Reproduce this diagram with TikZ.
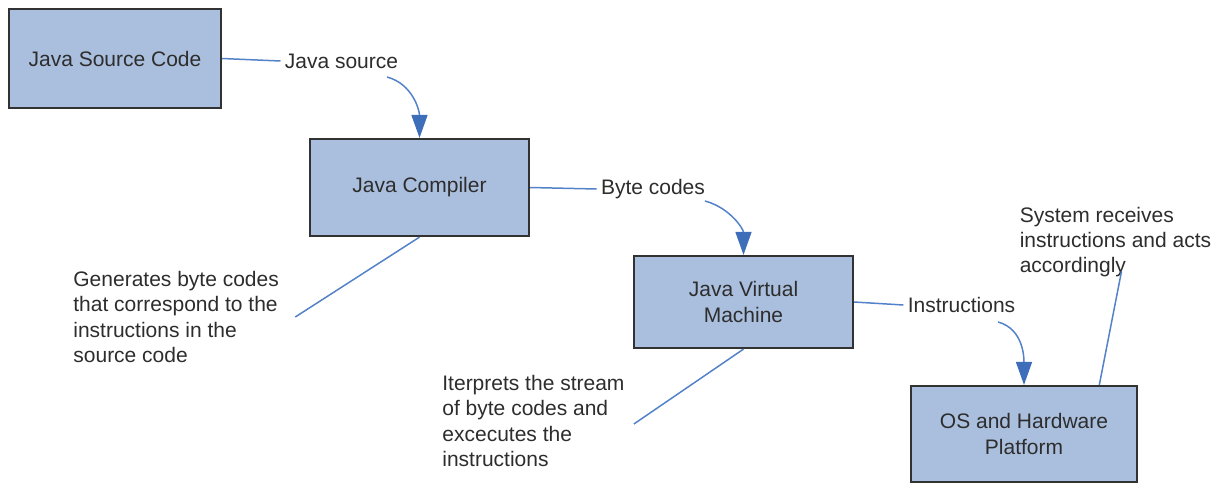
\documentclass[tikz,border=0pt]{standalone}
\usepackage{fontspec}
\setmainfont{Liberation Sans}
\usepackage{xcolor}
\usepackage{tikz}
\usetikzlibrary{arrows.meta,calc}

\definecolor{boxfill}{RGB}{170,191,222}
\definecolor{boxline}{RGB}{50,50,50}
\definecolor{linkblue}{RGB}{84,130,200}
\definecolor{tipblue}{RGB}{62,109,185}
\definecolor{txtgray}{RGB}{45,45,45}

\tikzset{
    block/.style={rectangle, draw=boxline, line width=1.1pt, fill=boxfill, align=center, text=txtgray, inner sep=0pt, font=\fontsize{10.5}{12.6}\selectfont},
    note/.style={align=left, text=txtgray, inner sep=2pt, font=\fontsize{10.5}{12.6}\selectfont},
    link/.style={draw=linkblue, line width=0.75pt},
    flow/.style={link, -{Triangle[length=11.5pt,width=8pt,color=tipblue]}}
}

\begin{document}
\begin{tikzpicture}[x=0.5pt, y=-0.5pt]
    \useasboundingbox (0,0) rectangle (1222,483);

    \node(source) [block, minimum width=106pt, minimum height=49.5pt] at (115,58.5) {Java Source Code};
    \node(compiler) [block, minimum width=109.5pt, minimum height=48.5pt] at (419.5,187.5) {Java Compiler};
    \node(jvm) [block, minimum width=109.5pt, minimum height=46pt] at (743.5,302) {Java Virtual\\Machine};
    \node(platform) [block, minimum width=113pt, minimum height=48pt] at (1024,434) {OS and Hardware\\Platform};

    \node(srclabel) [note] at (341.5,61) {Java source};
    \node(bytelabel) [note] at (653,189) {Byte codes};
    \node(instrlabel) [note] at (961.5,305) {Instructions};

    \node(compnote) [note, anchor=west] at (69,317) {Generates byte codes\\that correspond to the\\instructions in the\\source code};
    \node(jvmnote) [note, anchor=west] at (438,421) {Iterprets the stream\\of byte codes and\\excecutes the\\instructions};
    \node(sysnote) [note] at (1115.5,242) {System receives\\instructions and acts\\accordingly};

    \coordinate (srcbend) at (387,77);
    \coordinate (bytebend) at (705,201);
    \coordinate (instrbend) at (998,322);

    \draw[link] (source.east) -- (srclabel.west);
    \draw[flow] (srcbend) to[out=-15, in=90] (compiler.north);
    \draw[link] (compiler.east) -- (bytelabel.west);
    \draw[flow] (bytebend) to[out=-15, in=90] (jvm.north);
    \draw[link] (jvm.east) -- (instrlabel.west);
    \draw[flow] (instrbend) to[out=-15, in=90] (platform.north);

    \draw[link] (compiler.south) -- ([xshift=6pt]compnote.east);
    \draw[link] (jvm.south) -- ([xshift=2.5pt,yshift=-1.5pt]jvmnote.east);
    \draw[link] ($(platform.north west)!0.83!(platform.north east)$) -- ([xshift=3pt,yshift=5pt]sysnote.south);
\end{tikzpicture}
\end{document}
